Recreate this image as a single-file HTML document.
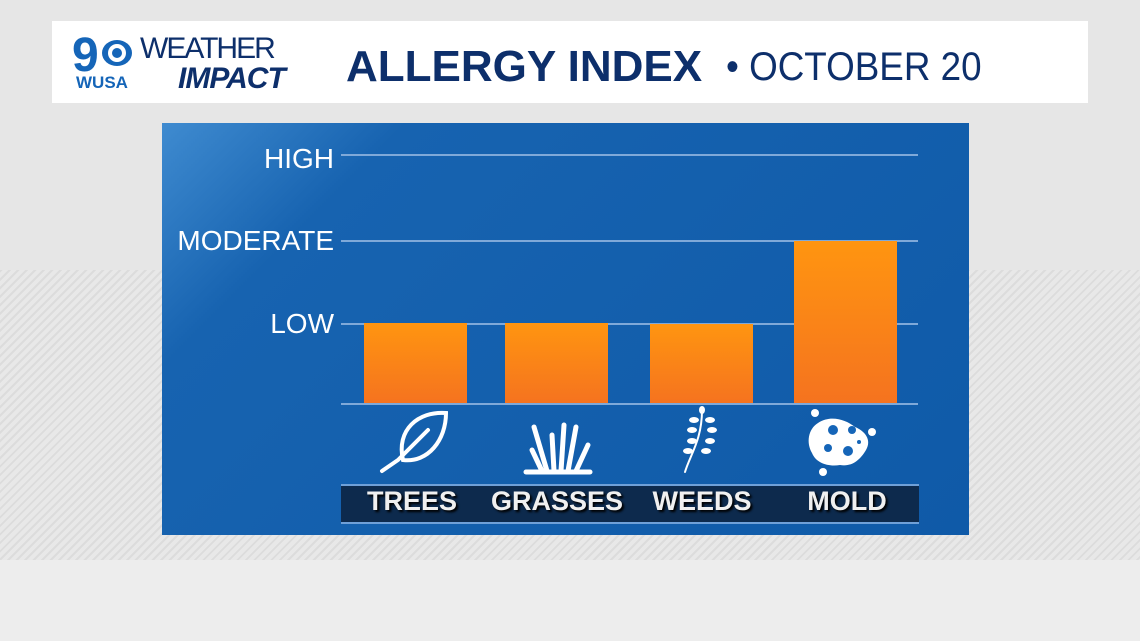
<!DOCTYPE html>
<html><head><meta charset="utf-8"><style>
body{margin:0;width:1140px;height:641px;overflow:hidden;position:relative;background:#e6e6e6;font-family:"Liberation Sans",sans-serif}
.bg2{position:absolute;left:0;top:270px;width:1140px;height:290px;background:repeating-linear-gradient(135deg,#dcdcdc 0 2px,#e8e8e8 2px 6px)}
.bg3{position:absolute;left:0;top:560px;width:1140px;height:81px;background:#ededed}
.hdr{position:absolute;left:52px;top:21px;width:1036px;height:82px;background:#fff}
.t{position:absolute;font-weight:bold;color:#0d2f6b;white-space:nowrap}
.panel{position:absolute;left:162px;top:123px;width:807px;height:412px;background:linear-gradient(135deg,#3f8bd0 0%,#1763b0 20%,#0f5aa8 100%)}
.gl{position:absolute;left:341px;width:577px;height:2px;background:#7fa9d9}
.lab{position:absolute;right:806px;color:#fff;font-size:28px;text-align:right;white-space:nowrap}
.bar{position:absolute;width:103px;background:linear-gradient(#ff9510,#f5731f)}
.strip{position:absolute;left:341px;top:484px;width:578px;height:36px;background:#0d2a4d;border-top:2px solid #6fa0d8;border-bottom:2px solid #6fa0d8}
.cat{position:absolute;top:486px;color:#f0f0f0;font-weight:bold;font-size:27px;text-shadow:2px 2px 2px #000;width:140px;text-align:center}
</style></head><body>
<div class="bg2"></div><div class="bg3"></div>
<div class="hdr"></div>
<div class="t" style="left:72px;top:28px;font-size:48px;color:#1565b8">9</div>
<div style="position:absolute;left:102px;top:40px;width:30px;height:26px;border-radius:50%;background:#1565b8"></div>
<div style="position:absolute;left:108px;top:44px;width:18px;height:18px;border-radius:50%;background:#fff"></div>
<div style="position:absolute;left:112px;top:48px;width:10px;height:10px;border-radius:50%;background:#1565b8"></div>
<div class="t" style="left:76px;top:73px;font-size:17px;color:#1565b8">WUSA</div>
<div class="t" style="left:140px;top:32px;font-size:30px;letter-spacing:-2px;font-weight:normal">WEATHER</div>
<div class="t" style="left:178px;top:62px;font-size:30px;font-style:italic;letter-spacing:-1px">IMPACT</div>
<div class="t" style="left:346px;top:42px;font-size:44px">ALLERGY INDEX</div>
<div class="t" style="left:726px;top:45px;font-size:40px;font-weight:normal;transform:scaleX(0.92);transform-origin:left">• OCTOBER 20</div>
<div class="panel"></div>
<div class="gl" style="top:154px"></div>
<div class="gl" style="top:240px"></div>
<div class="gl" style="top:323px"></div>
<div class="gl" style="top:403px"></div>
<div class="lab" style="top:143px">HIGH</div>
<div class="lab" style="top:225px">MODERATE</div>
<div class="lab" style="top:308px">LOW</div>
<div class="bar" style="left:364px;top:323px;height:80px"></div>
<div class="bar" style="left:505px;top:323px;height:80px"></div>
<div class="bar" style="left:650px;top:324px;height:79px"></div>
<div class="bar" style="left:794px;top:241px;height:162px"></div>
<svg style="position:absolute;left:340px;top:405px" width="580" height="75" fill="none" stroke="#fff" stroke-width="4" stroke-linecap="round">
<g transform="translate(38,0)"><path d="M68 8 C40 6 18 25 25 55 C50 58 68 35 68 8 Z"/><path d="M4 66 L20 55 L50 25"/></g>
<g stroke-width="5" transform="translate(24,0)"><path d="M190 66 L188 30 M197 66 L200 20 M204 66 L212 22 M183 66 L170 22 M212 66 L224 40 M178 66 L168 45"/><path d="M162 67 L226 67"/></g>
<path d="M345 67 C350 50 362 35 362 5" stroke-width="2"/>
<g fill="#fff" stroke="none"><ellipse cx="354" cy="15" rx="5" ry="3"/><ellipse cx="370" cy="15" rx="5" ry="3"/><ellipse cx="352" cy="25" rx="5" ry="3"/><ellipse cx="372" cy="25" rx="5" ry="3"/><ellipse cx="352" cy="36" rx="5" ry="3"/><ellipse cx="370" cy="36" rx="5" ry="3"/><ellipse cx="348" cy="46" rx="5" ry="3"/><ellipse cx="366" cy="46" rx="5" ry="3"/><ellipse cx="362" cy="5" rx="3" ry="4"/>
<path d="M478 18 C490 10 505 14 515 22 C525 26 532 35 526 45 C520 55 512 62 500 60 C488 62 476 58 472 48 C466 38 468 24 478 18 Z"/>
<circle cx="475" cy="8" r="4"/><circle cx="532" cy="27" r="4"/><circle cx="483" cy="67" r="4"/></g>
<g fill="#1565b8" stroke="none"><circle cx="493" cy="25" r="5"/><circle cx="512" cy="25" r="4"/><circle cx="488" cy="43" r="4"/><circle cx="508" cy="46" r="5"/><circle cx="519" cy="37" r="2"/></g>
</svg>
<div class="strip"></div>
<div class="cat" style="left:342px">TREES</div>
<div class="cat" style="left:487px">GRASSES</div>
<div class="cat" style="left:632px">WEEDS</div>
<div class="cat" style="left:777px">MOLD</div>
</body></html>
